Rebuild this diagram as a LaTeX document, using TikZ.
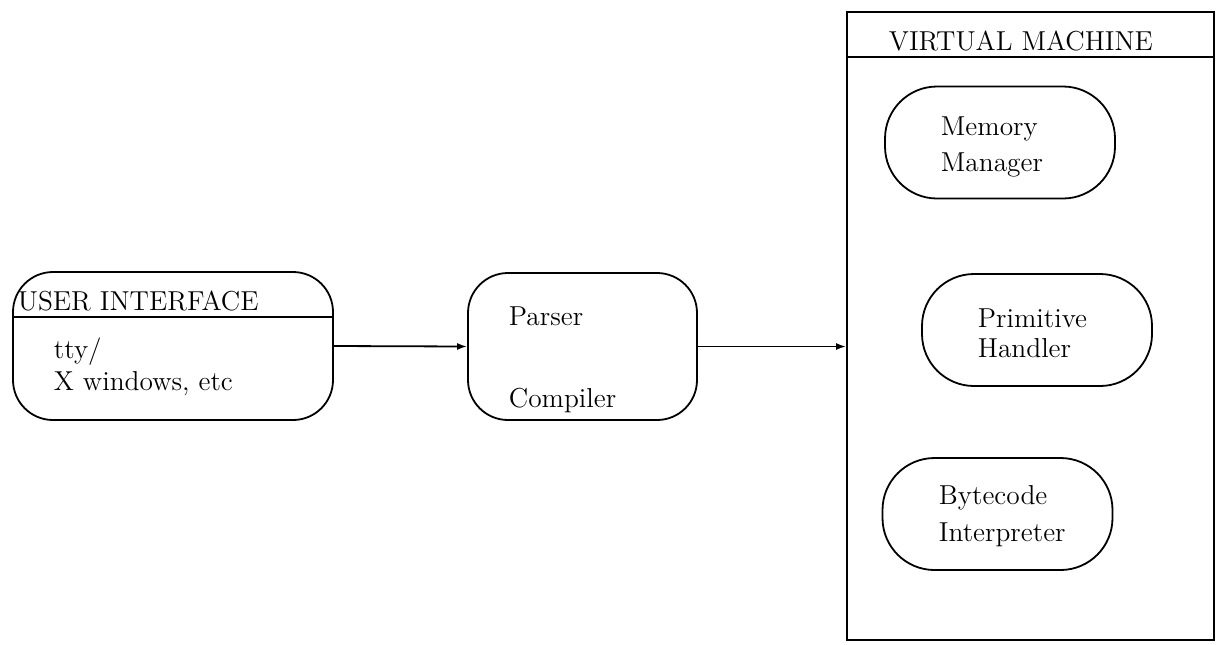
\documentclass[tikz,border=0pt]{standalone}
\usetikzlibrary{arrows.meta}
\begin{document}
\begin{tikzpicture}[x=0.5pt,y=-0.5pt,
  line width=0.9pt,
  every node/.style={font=\fontsize{13.7}{16}\selectfont},
  rbox/.style={draw,rectangle,rounded corners=20pt,inner sep=0pt},
  oval/.style={draw,rectangle,rounded corners=26pt,inner sep=0pt,minimum width=115pt,minimum height=56pt},
  txt/.style={anchor=base west,inner sep=0pt},
  conn/.style={-{Latex[length=5pt,width=3.5pt]}}]
\useasboundingbox (0,0) rectangle (1220,644);
% user interface
\node[rbox,minimum width=160pt,minimum height=74pt] (ui) at (173,346) {};
\coordinate (uidiv) at (0,317);
\draw (ui.west |- uidiv) -- (ui.east |- uidiv);
\node[txt] (uit) at (17,310) {USER INTERFACE};
\node[txt] (tty) at (53,358) {tty/};
\node[txt] (xw) at (53,390) {X windows, etc};
% parser / compiler
\node[rbox,minimum width=114.5pt,minimum height=73.5pt] (pc) at (582.5,346.5) {};
\node[txt] (ptxt) at (508,325) {Parser};
\node[txt] (ctxt) at (508,407) {Compiler};
% virtual machine
\node[draw,rectangle,inner sep=0pt,minimum width=183.5pt,minimum height=314pt] (vm) at (1030.5,326) {};
\coordinate (vmdiv) at (0,57);
\draw (vm.west |- vmdiv) -- (vm.east |- vmdiv);
\node[txt] (vmt) at (888,50) {VIRTUAL MACHINE};
\node[oval] (mm) at (1000,142.5) {};
\node[txt] (mm1) at (940,135) {Memory};
\node[txt] (mm2) at (940,171) {Manager};
\node[oval] (ph) at (1037,330) {};
\node[txt] (ph1) at (977,327) {Primitive};
\node[txt] (ph2) at (977,357) {Handler};
\node[oval] (bi) at (997.5,514) {};
\node[txt] (bi1) at (938,504) {Bytecode};
\node[txt] (bi2) at (938,541) {Interpreter};
% connectors
\draw[conn] (ui.east) -- (pc.west);
\draw[conn] (pc.east) -- (vm.west |- pc.east);
\end{tikzpicture}
\end{document}
